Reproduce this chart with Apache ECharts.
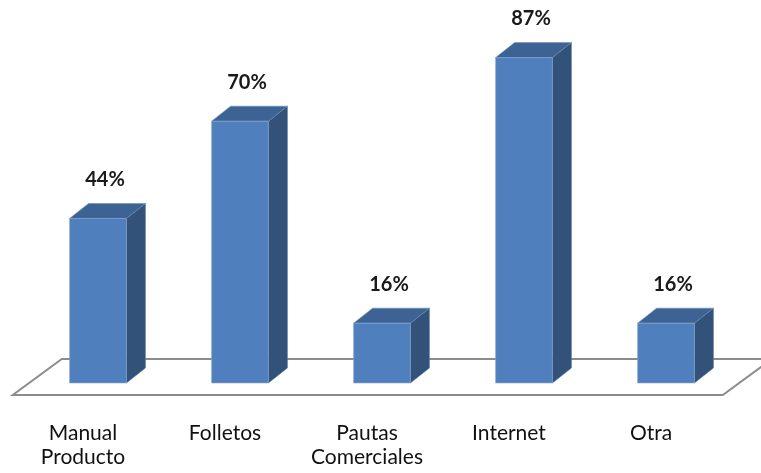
<!DOCTYPE html>
<html>
<head>
<meta charset="utf-8">
<style>
  html, body { margin: 0; padding: 0; background: #ffffff; }
  #chart { width: 761px; height: 473px; }
</style>
<script src="https://cdn.jsdelivr.net/npm/echarts@6/dist/echarts.min.js"></script>
</head>
<body>
<div id="chart"></div>
<script>
// Medios consultados (porcentaje de respuestas)
const categories = ['Manual\nProducto', 'Folletos', 'Pautas\nComerciales', 'Internet', 'Otra'];
const values = [44, 70, 16, 87, 16];

const FRONT = '#4f80bd';
const SIDE = '#325279';
const TOP = '#3c6394';
const DEPTH_X = 19, DEPTH_Y = -15;

const chart = echarts.init(document.getElementById('chart'), null, { renderer: 'canvas' });

// 3D-looking column: front face, right side face and top face
function renderBar(params, api) {
  const idx = api.value(0);
  const v = api.value(1);
  const base = api.coord([idx, 0]);
  const top = api.coord([idx, v]);
  const band = api.size([1, 0])[0];
  const w = band * 0.40;
  const xl = base[0] - w / 2, xr = base[0] + w / 2;
  const yb = base[1], yt = top[1];
  return {
    type: 'group',
    children: [
      {
        type: 'polygon',
        shape: { points: [[xr, yt], [xr + DEPTH_X, yt + DEPTH_Y], [xr + DEPTH_X, yb + DEPTH_Y], [xr, yb]] },
        style: { fill: SIDE, stroke: '#56759e', lineWidth: 0.6 }
      },
      {
        type: 'polygon',
        shape: { points: [[xl, yt], [xl + DEPTH_X, yt + DEPTH_Y], [xr + DEPTH_X, yt + DEPTH_Y], [xr, yt]] },
        style: { fill: TOP, stroke: '#6f8fb8', lineWidth: 0.6 }
      },
      {
        type: 'rect',
        shape: { x: xl, y: yt, width: w, height: yb - yt },
        style: { fill: FRONT, stroke: '#8aa6cc', lineWidth: 0.6 }
      },
      {
        type: 'text',
        style: {
          text: v + '%',
          x: base[0] + 7,
          y: yt - 29,
          align: 'center',
          verticalAlign: 'bottom',
          font: 'bold 20px Lato, "Liberation Sans", sans-serif',
          fill: '#1a1a1a'
        }
      }
    ]
  };
}

// Floor plane under the columns
function renderFloor(params, api) {
  const first = api.coord([0, 0]);
  const last = api.coord([categories.length - 1, 0]);
  const band = api.size([1, 0])[0];
  const fy = first[1] + 12;
  const fl = first[0] - band * 0.6;
  const fr = last[0] + band * 0.4;
  const ox = 49, oy = -36;
  return {
    type: 'polygon',
    shape: { points: [[fl, fy], [fr, fy], [fr + ox, fy + oy], [fl + ox, fy + oy]] },
    style: { fill: '#ffffff', stroke: '#8c8c8c', lineWidth: 2 }
  };
}

chart.setOption({
  animation: false,
  backgroundColor: '#ffffff',
  grid: { left: 27, right: 24, top: 9, bottom: 90 },
  xAxis: {
    type: 'category',
    data: categories,
    boundaryGap: true,
    axisLine: { show: false },
    axisTick: { show: false },
    axisLabel: {
      interval: 0,
      hideOverlap: false,
      margin: 38,
      color: '#111111',
      fontFamily: 'Lato, "Liberation Sans", sans-serif',
      fontSize: 21,
      lineHeight: 24,
      padding: [0, 30, 0, 0]
    }
  },
  yAxis: {
    type: 'value',
    min: 0,
    max: 100,
    show: false,
    splitLine: { show: false }
  },
  series: [
    {
      type: 'custom',
      renderItem: renderFloor,
      data: [[0, 0]],
      z: 1,
      silent: true
    },
    {
      type: 'custom',
      renderItem: renderBar,
      data: values.map((v, i) => [i, v]),
      z: 2
    }
  ]
});
</script>
</body>
</html>
